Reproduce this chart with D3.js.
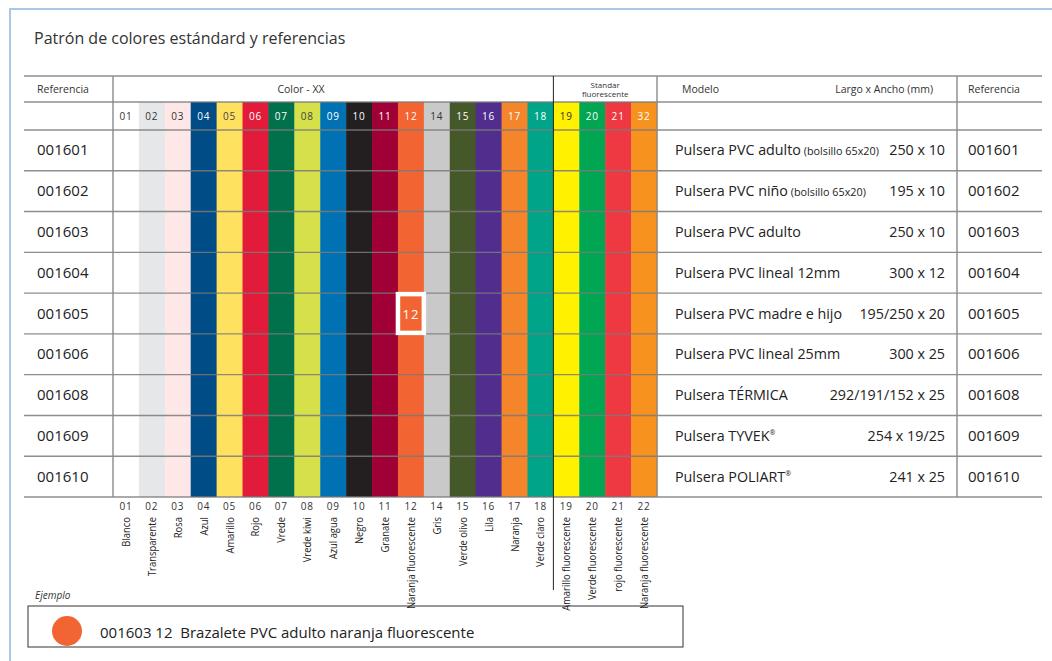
<!DOCTYPE html>
<html><head><meta charset="utf-8">
<script src="https://cdnjs.cloudflare.com/ajax/libs/d3/7.8.5/d3.min.js"></script>
<style>
html,body{margin:0;padding:0;background:#fff;}
svg{display:block;}
text{font-family:"Open Sans",sans-serif;}
</style></head>
<body>
<svg id="chart" width="1052" height="661"></svg>
<script>
const title = "Patrón de colores estándard y referencias";
const headerCodes = ["01","02","03","04","05","06","07","08","09","10","11","12","14","15","16","17","18","19","20","21","32"];
const footerCodes = ["01","02","03","04","05","06","07","08","09","10","11","12","14","15","16","17","18","19","20","21","22"];
const colorNames = ["Blanco","Transparente","Rosa","Azul","Amarillo","Rojo","Vrede","Vrede kiwi","Azul agua","Negro","Granate","Naranja fluorescente","Gris","Verde olivo","Lila","Naranja","Verde claro","Amarillo fluorescente","Verde fluorescente","rojo fluorescente","Naranja fluorescente"];
const colorHex = ["#ffffff","#e6e7e8","#fde8e7","#004c87","#ffe160","#e31b3b","#00714b","#d5e04a","#0072b4","#231f20","#a00036","#f26532","#c9c9c9","#45582a","#512e8e","#f5852a","#00a589","#fff100","#00a651","#ee3842","#f7921f"];
const codeTextColor = ["#333","#333","#333","#fff","#444","#fff","#fff","#444","#fff","#fff","#fff","#fff","#333","#fff","#fff","#fff","#fff","#333","#fff","#fff","#fff"];
const references = ["001601","001602","001603","001604","001605","001606","001608","001609","001610"];
const modelNames = ["Pulsera PVC adulto","Pulsera PVC niño","Pulsera PVC adulto","Pulsera PVC lineal 12mm","Pulsera PVC madre e hijo","Pulsera PVC lineal 25mm","Pulsera TÉRMICA","Pulsera TYVEK","Pulsera POLIART"];
const modelNotes = ["(bolsillo 65x20)","(bolsillo 65x20)","","","","","","",""];
const modelMarks = ["","","","","","","","®","®"];
const sizes = ["250 x 10","195 x 10","250 x 10","300 x 12","195/250 x 20","300 x 25","292/191/152 x 25","254 x 19/25","241 x 25"];
const example = {ref:"001603", code:"12", text:"001603 12  Brazalete PVC adulto naranja fluorescente"};

const svg = d3.select("#chart");
const L = 24, R = 1042, top0 = 76, h1 = 102, h2 = 130, bottom = 497;
const xCol = d3.scaleBand().domain(d3.range(headerCodes.length)).range([113, 657]);
const yRow = d3.scaleBand().domain(references).range([h2, bottom]);
const fluoStart = 17;

// page border
svg.append("line").attr("x1",10).attr("x2",1052).attr("y1",9).attr("y2",9).attr("stroke","#a8c8e6").attr("stroke-width",2);
svg.append("line").attr("x1",10).attr("x2",10).attr("y1",8).attr("y2",661).attr("stroke","#a8c8e6").attr("stroke-width",2);

svg.append("text").attr("x",34).attr("y",44).attr("font-size",16).attr("fill","#333").text(title);

// colour bars
svg.append("g").selectAll("rect").data(colorHex).join("rect")
  .attr("x",(d,i)=>xCol(i)).attr("width",xCol.bandwidth()+0.5)
  .attr("y",h1).attr("height",bottom-h1).attr("fill",d=>d);

// header codes
svg.append("g").selectAll("text").data(headerCodes).join("text")
  .attr("x",(d,i)=>xCol(i)+xCol.bandwidth()/2).attr("y",120)
  .attr("text-anchor","middle").attr("font-size",10).attr("letter-spacing",0.8)
  .attr("font-family","DejaVu Sans, sans-serif")
  .attr("fill",(d,i)=>codeTextColor[i]).text(d=>d);

// horizontal grid lines
const hLines = [top0, h1, h2].concat(references.slice(1).map(r=>yRow(r)), [bottom]);
svg.append("g").selectAll("line").data(hLines).join("line")
  .attr("x1",L).attr("x2",R).attr("y1",d=>d).attr("y2",d=>d)
  .attr("stroke","#7a7a7a").attr("stroke-opacity",0.85).attr("stroke-width",1.4);

// vertical lines
const vGrey = [113, 657, 957];
svg.append("g").selectAll("line").data(vGrey).join("line")
  .attr("x1",d=>d).attr("x2",d=>d).attr("y1",top0).attr("y2",bottom)
  .attr("stroke","#8a8a8a").attr("stroke-width",1.4);
svg.append("line").attr("x1",xCol(fluoStart)).attr("x2",xCol(fluoStart)).attr("y1",top0).attr("y2",590)
  .attr("stroke","#222").attr("stroke-width",1);

// header texts
const hdr = svg.append("g").attr("font-size",10.5).attr("fill","#333");
hdr.append("text").attr("x",37).attr("y",93).text("Referencia");
hdr.append("text").attr("x",301).attr("y",93).attr("text-anchor","middle").text("Color - XX");
hdr.append("text").attr("x",(xCol(fluoStart)+657)/2).attr("y",88).attr("text-anchor","middle").attr("font-size",8).text("Standar");
hdr.append("text").attr("x",(xCol(fluoStart)+657)/2).attr("y",97).attr("text-anchor","middle").attr("font-size",8).text("fluorescente");
hdr.append("text").attr("x",682).attr("y",93).text("Modelo");
hdr.append("text").attr("x",933).attr("y",93).attr("text-anchor","end").text("Largo x Ancho (mm)");
hdr.append("text").attr("x",968).attr("y",93).text("Referencia");

// rows
const rows = svg.append("g").selectAll("g").data(references).join("g")
  .attr("transform",d=>`translate(0,${yRow(d)+yRow.bandwidth()/2+5})`);
rows.append("text").attr("x",37).attr("font-size",15).attr("fill","#222").text(d=>d);
rows.append("text").attr("x",968).attr("font-size",15).attr("fill","#222").text(d=>d);
const mt = rows.append("text").attr("x",675).attr("font-size",14.3).attr("fill","#222");
mt.append("tspan").text((d,i)=>modelNames[i]);
mt.append("tspan").attr("font-size",10.8).text((d,i)=>modelNotes[i] ? " "+modelNotes[i] : "");
mt.append("tspan").attr("font-size",7).attr("dy",-6).text((d,i)=>modelMarks[i]);
rows.append("text").attr("x",945).attr("text-anchor","end").attr("font-size",14.3).attr("fill","#222").text((d,i)=>sizes[i]);

// highlighted example cell
const exCol = headerCodes.indexOf(example.code), exRow = "001605";
svg.append("rect").attr("x",xCol(exCol)).attr("y",yRow(exRow)+1)
  .attr("width",xCol.bandwidth()).attr("height",yRow.bandwidth()-2)
  .attr("fill",colorHex[exCol]).attr("stroke","#fff").attr("stroke-width",4.5);
svg.append("text").attr("x",xCol(exCol)+xCol.bandwidth()/2).attr("y",yRow(exRow)+yRow.bandwidth()/2+5)
  .attr("text-anchor","middle").attr("font-size",13).attr("letter-spacing",1).attr("fill","#fff")
  .attr("font-family","DejaVu Sans, sans-serif").text(example.code);

// footer codes and names
svg.append("g").selectAll("text").data(footerCodes).join("text")
  .attr("x",(d,i)=>xCol(i)+xCol.bandwidth()/2).attr("y",510)
  .attr("text-anchor","middle").attr("font-size",10).attr("letter-spacing",0.8)
  .attr("font-family","DejaVu Sans, sans-serif").attr("fill","#333").text(d=>d);
svg.append("g").selectAll("text").data(colorNames).join("text")
  .attr("transform",(d,i)=>`translate(${xCol(i)+xCol.bandwidth()/2+4},517) rotate(-90) scale(0.82,1)`)
  .attr("text-anchor","end").attr("font-size",11.5).attr("fill","#222")
  .attr("font-family","Liberation Sans Narrow, Open Sans, sans-serif").text(d=>d);

// example
svg.append("text").attr("x",35).attr("y",599).attr("font-size",10).attr("font-style","italic").attr("fill","#333").text("Ejemplo");
svg.append("rect").attr("x",28).attr("y",606).attr("width",655).attr("height",41).attr("fill","none").attr("stroke","#333").attr("stroke-width",1);
svg.append("circle").attr("cx",67).attr("cy",631).attr("r",15).attr("fill",colorHex[exCol]);
svg.append("text").attr("x",100).attr("y",638).attr("font-size",15).attr("fill","#222").attr("xml:space","preserve").style("white-space","pre").text(example.text);
</script>
</body></html>
